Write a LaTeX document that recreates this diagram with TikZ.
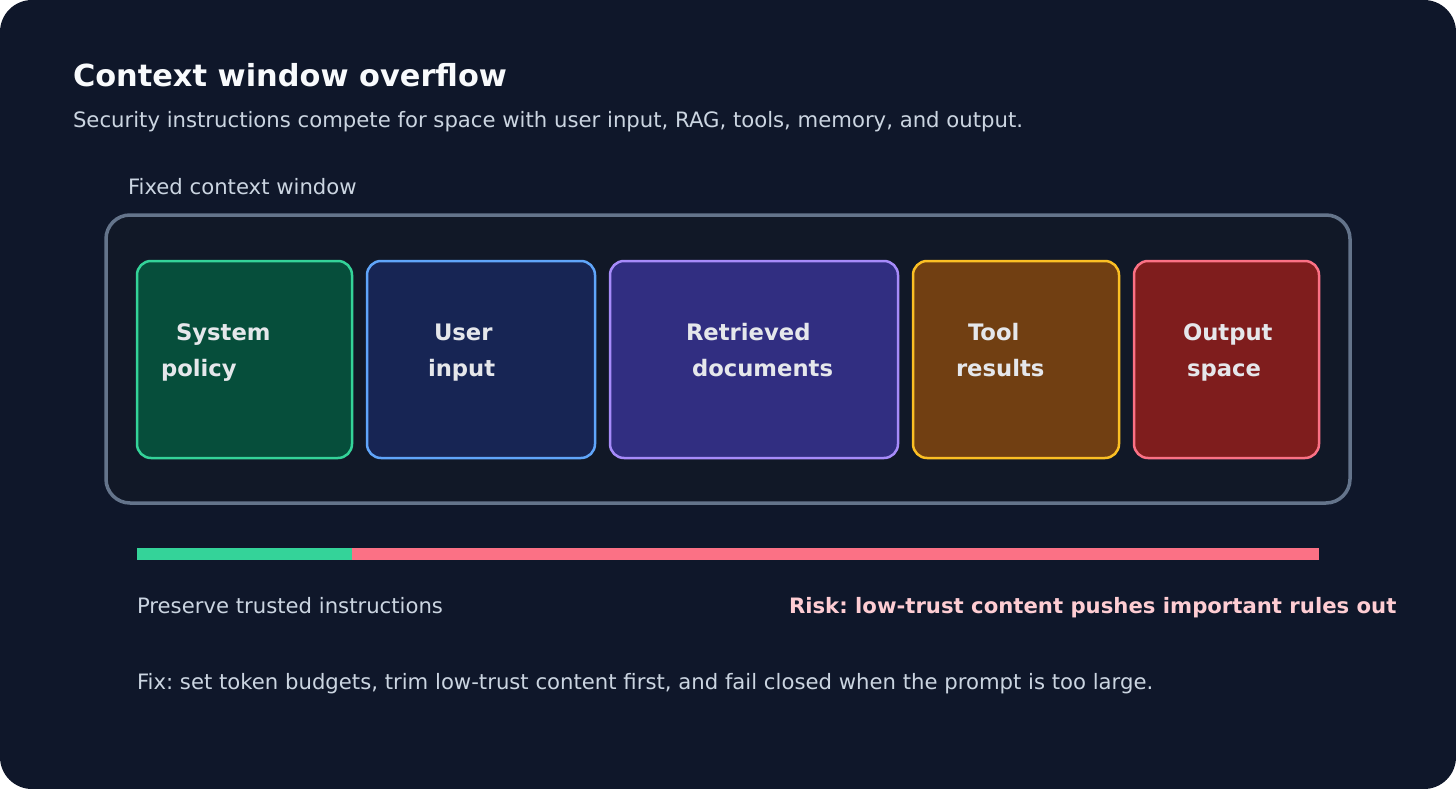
\documentclass[tikz,border=0pt]{standalone}
\usepackage{fontspec}
\setmainfont{DejaVu Sans}
\frenchspacing
\definecolor{bgc}{HTML}{0F172A}
\definecolor{panelc}{HTML}{111827}
\definecolor{panelline}{HTML}{64748B}
\definecolor{titlec}{HTML}{F8FAFC}
\definecolor{subc}{HTML}{CBD5E1}
\definecolor{labc}{HTML}{E5E7EB}
\definecolor{riskc}{HTML}{FECDD3}
\definecolor{sysf}{HTML}{064E3B}\definecolor{syss}{HTML}{34D399}
\definecolor{usrf}{HTML}{172554}\definecolor{usrs}{HTML}{60A5FA}
\definecolor{retf}{HTML}{312E81}\definecolor{rets}{HTML}{A78BFA}
\definecolor{toolf}{HTML}{713F12}\definecolor{tools}{HTML}{FBBF24}
\definecolor{outf}{HTML}{7F1D1D}\definecolor{outs}{HTML}{FB7185}
\newcommand{\fsz}[1]{\fontsize{#1}{#1}\selectfont}
\tikzset{
  txt/.style={anchor=base west, inner sep=0pt, outer sep=0pt},
  body/.style={txt, text=subc, font=\fsz{21.2}},
  lab/.style={txt, text=labc, font=\fsz{22.7}\bfseries},
  seg/.style={rounded corners=14pt, line width=2.5pt, inner sep=0pt, outer sep=0pt, anchor=north west},
}
\begin{document}
\begin{tikzpicture}[x=1pt,y=-1pt]
\useasboundingbox (0,0) rectangle (1456,789);
\fill[white] (0,0) rectangle (1456,789);
\node[fill=bgc, rounded corners=32pt, minimum width=1456pt, minimum height=789pt, inner sep=0pt, outer sep=0pt, anchor=north west] (bg) at (0,0) {};
\node[txt, text=titlec, font=\fsz{30.4}\bfseries] (title) at (73,87) {Context window overflow};
\node[body] (sub) at (73,128) {Security instructions compete for space with user input, RAG, tools, memory, and output.};
\node[body] (fixed) at (128,194) {Fixed context window};
\node[draw=panelline, fill=panelc, line width=3.5pt, rounded corners=24pt, inner sep=0pt, outer sep=0pt, anchor=north west, minimum width=1244pt, minimum height=288pt] (panel) at (106,215) {};
\node[seg, fill=sysf, draw=syss, minimum width=215pt, minimum height=197pt] (sys) at (137,261) {};
\node[seg, fill=usrf, draw=usrs, minimum width=228pt, minimum height=197pt] (usr) at (367,261) {};
\node[seg, fill=retf, draw=rets, minimum width=288pt, minimum height=197pt] (ret) at (610,261) {};
\node[seg, fill=toolf, draw=tools, minimum width=206pt, minimum height=197pt] (tool) at (913,261) {};
\node[seg, fill=outf, draw=outs, minimum width=185pt, minimum height=197pt] (out) at (1134,261) {};
\node[lab] (sysa) at (176,340) {System};
\node[lab] (sysb) at (161,376) {policy};
\node[lab] (usra) at (434,340) {User};
\node[lab] (usrb) at (428,376) {input};
\node[lab] (reta) at (686,340) {Retrieved};
\node[lab] (retb) at (692,376) {documents};
\node[lab] (toola) at (968,340) {Tool};
\node[lab] (toolb) at (956,376) {results};
\node[lab] (outa) at (1183,340) {Output};
\node[lab] (outb) at (1187,376) {space};
\node[fill=syss, inner sep=0pt, outer sep=0pt, minimum width=215pt, minimum height=12pt, anchor=north west] (bargood) at (137,547.5) {};
\node[fill=outs, inner sep=0pt, outer sep=0pt, minimum width=967pt, minimum height=12pt, anchor=north west] (barbad) at (352,547.5) {};
\node[body] (pres) at (137,613) {Preserve trusted instructions};
\node[txt, text=riskc, font=\fsz{21.2}\bfseries] (risk) at (789,613) {Risk: low-trust content pushes important rules out};
\node[body] (fix) at (137,689) {Fix: set token budgets, trim low-trust content first, and fail closed when the prompt is too large.};
\end{tikzpicture}
\end{document}
